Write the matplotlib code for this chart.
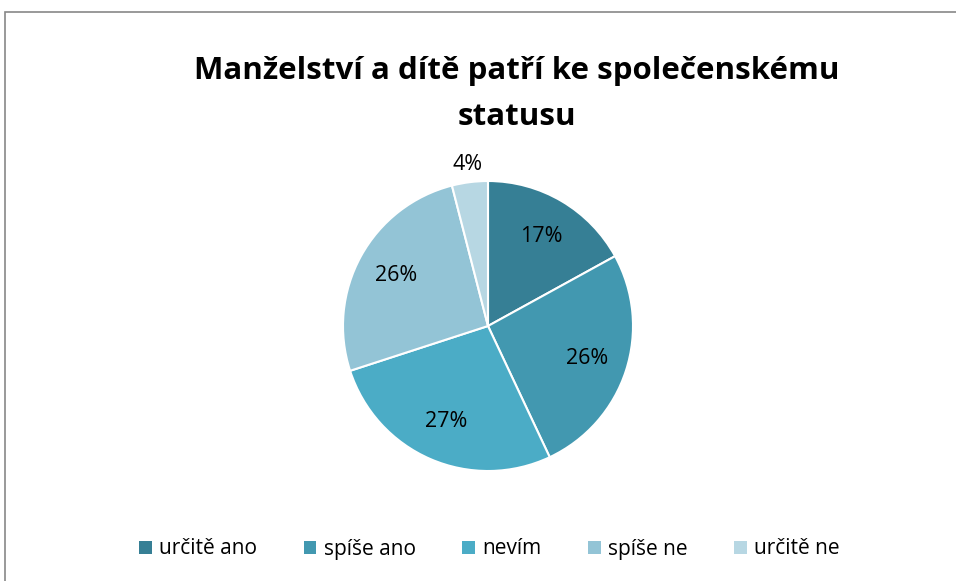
import matplotlib.pyplot as plt
from matplotlib.patches import Rectangle, Patch
import numpy as np

# data
labels = ['určitě ano', 'spíše ano', 'nevím', 'spíše ne', 'určitě ne']
values = [17, 26, 27, 26, 4]
colors = ['#367F95', '#4298B0', '#4BACC6', '#93C4D6', '#B7D7E3']

plt.rcParams['font.family'] = ['Open Sans', 'DejaVu Sans']

fig = plt.figure(figsize=(9.56, 5.81), dpi=100)

# chart frame (cut off at right and bottom like the original)
fig.patches.append(Rectangle((5 / 956, -0.1), 1.2, 1 - 12 / 581 + 0.1,
                             transform=fig.transFigure, fill=False,
                             edgecolor='#888888', linewidth=1.2))

ax = fig.add_axes([(488 - 145) / 956, 1 - (326 + 145) / 581, 290 / 956, 290 / 581])
wedges, texts = ax.pie(values, colors=colors, startangle=90, counterclock=False,
                       wedgeprops=dict(edgecolor='white', linewidth=1.5))
ax.set_xlim(-1, 1)
ax.set_ylim(-1, 1)
ax.set_aspect('equal')
ax.axis('off')

# percentage labels
ang = 90.0
for i, v in enumerate(values):
    mid = ang - v / 100 * 360 / 2
    r = 1.12 if v < 5 else 0.72
    x = r * np.cos(np.radians(mid))
    y = r * np.sin(np.radians(mid))
    ax.text(x, y, '%d%%' % v, ha='center', va='center', fontsize=15.5, color='black')
    ang -= v / 100 * 360

fig.text(0.541, 1 - 71 / 581, 'Manželství a dítě patří ke společenskému',
         ha='center', va='center', fontsize=22.5, fontweight='bold')
fig.text(0.541, 1 - 117 / 581, 'statusu',
         ha='center', va='center', fontsize=22.5, fontweight='bold')

handles = [Patch(facecolor=c, edgecolor='none') for c in colors]
fig.legend(handles, labels, loc='center', bbox_to_anchor=(0.512, 1 - 549 / 581),
           ncol=5, frameon=False, fontsize=15, handlelength=0.6, handleheight=0.6,
           handletextpad=0.35, columnspacing=2.25)

fig.savefig('out.png', dpi=100)
plt.close(fig)
